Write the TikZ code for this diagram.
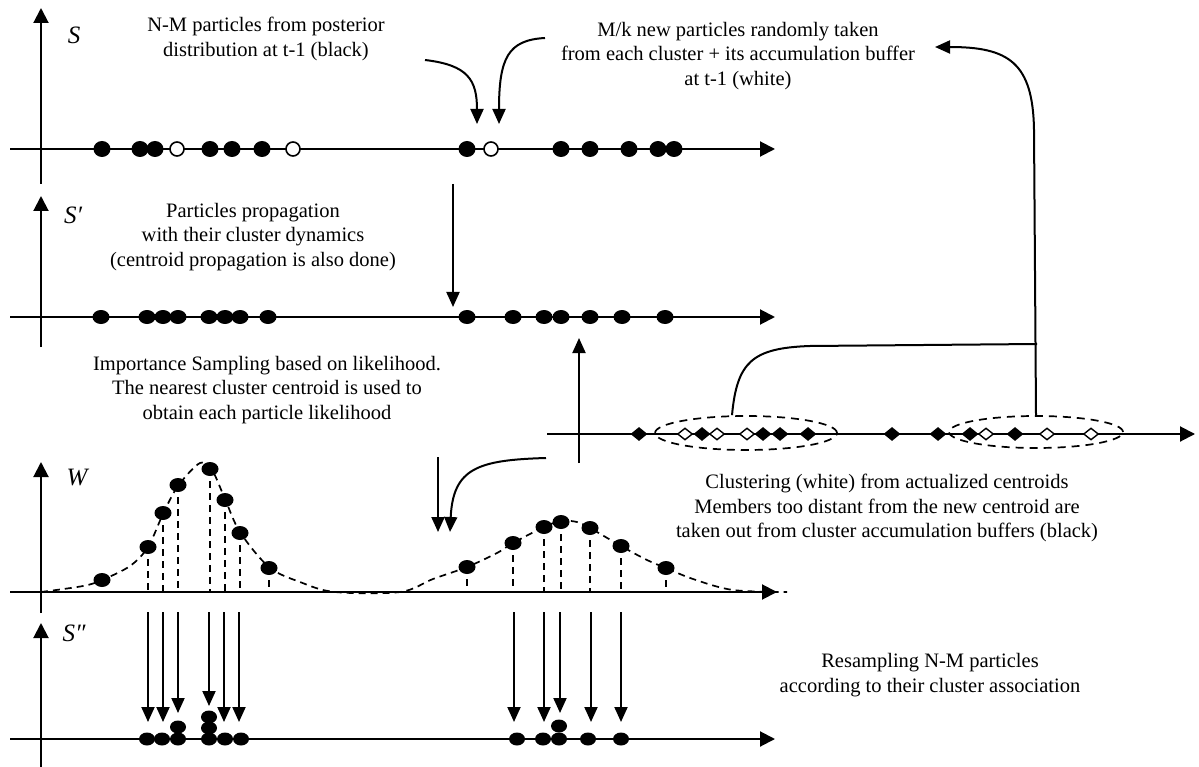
\documentclass[tikz,border=0pt]{standalone}
\usepackage{fontspec}
\setmainfont{Liberation Serif}
\usetikzlibrary{arrows.meta,shapes.geometric}
\tikzset{
 axisline/.style={line width=2pt,-{Triangle[length=15pt,width=15pt]}},
 arr/.style={line width=2pt,-{Triangle[length=15pt,width=13pt]}},
 plainline/.style={line width=2pt},
 pdotS/.style={ellipse,fill=black,inner sep=0pt,minimum width=17pt,minimum height=16pt},
 pdot/.style={ellipse,fill=black,inner sep=0pt,minimum width=17pt,minimum height=14pt},
 pdotR/.style={ellipse,fill=black,inner sep=0pt,minimum width=16pt,minimum height=13pt},
 podot/.style={ellipse,draw,fill=white,line width=1.6pt,inner sep=0pt,minimum width=14pt,minimum height=14pt},
 fdia/.style={diamond,fill=black,inner sep=0pt,minimum width=17pt,minimum height=14pt},
 odia/.style={diamond,draw,fill=white,line width=1.4pt,inner sep=0pt,minimum width=15pt,minimum height=12pt},
 clus/.style={ellipse,draw,line width=1.7pt,dash pattern=on 8pt off 6pt,inner sep=0pt},
 txt/.style={align=center,font=\fontsize{20.5}{24.5}\selectfont,inner sep=0pt},
 lab/.style={font=\fontsize{25}{30}\selectfont\itshape,inner sep=0pt},
 dsh/.style={line width=1.7pt,dash pattern=on 7pt off 5pt},
}
\begin{document}
\begin{tikzpicture}[x=1pt,y=-1pt]
\useasboundingbox (0,0) rectangle (1199,767);

% ---------- axes ----------
\coordinate (sL) at (10,149);   \coordinate (sR) at (775,149);
\coordinate (sB) at (41,184);   \coordinate (sT) at (41,8);
\coordinate (pL) at (10,317);   \coordinate (pR) at (775,317);
\coordinate (pB) at (41,347);   \coordinate (pT) at (41,196);
\coordinate (wL) at (10,592);   \coordinate (wR) at (777,592);
\coordinate (wB) at (41,613);   \coordinate (wT) at (41,462);
\coordinate (rL) at (10,739);   \coordinate (rR) at (775,739);
\coordinate (rB) at (41,767);   \coordinate (rT) at (41,623);
\coordinate (cL) at (547,434);  \coordinate (cR) at (1195,434);
\draw[axisline] (sL) -- (sR);  \draw[axisline] (sB) -- (sT);
\draw[axisline] (pL) -- (pR);  \draw[axisline] (pB) -- (pT);
\draw[axisline] (wL) -- (wR);  \draw[axisline] (wB) -- (wT);
\draw[axisline] (rL) -- (rR);  \draw[axisline] (rB) -- (rT);
\draw[axisline] (cL) -- (cR);

% ---------- axis labels ----------
\node[lab] (labS)  at (74,35)  {S};
\node[lab] (labS1) at (73,215) {S′};
\node[lab] (labW)  at (77,478) {W};
\node[lab] (labS2) at (74,633) {S″};

% ---------- texts ----------
\node[txt] (t1) at (266,39) {N-M particles from posterior\\distribution at t-1 (black)};
\node[txt] (t2) at (738,56) {M/k new particles randomly taken\\from each cluster + its accumulation buffer\\at t-1 (white)};
\node[txt] (t3) at (253,237) {Particles propagation\\with their cluster dynamics\\(centroid propagation is also done)};
\node[txt] (t4) at (267,390) {Importance Sampling based on likelihood.\\The nearest cluster centroid is used to\\obtain each particle likelihood};
\node[txt] (t5) at (887,508) {Clustering (white) from actualized centroids\\Members too distant from the new centroid are\\taken out from cluster accumulation buffers (black)};
\node[txt] (t6) at (930,675) {Resampling N-M particles\\according to their cluster association};

% ---------- row S ----------
\foreach \x [count=\i] in {102,140,155,210,232,262,467,561,590,629,658,674}
  \node[pdotS] (s\i) at (\x,149) {};
\foreach \x [count=\i] in {177,293,491}
  \node[podot] (so\i) at (\x,149) {};

% ---------- row S' ----------
\foreach \x [count=\i] in {101,147,163,178,209,225,240,268,467,513,544,561,590,622,665}
  \node[pdot] (p\i) at (\x,317) {};

% ---------- row W ----------
\draw[dsh] plot[smooth,tension=0.55] coordinates {(41,592) (83,586) (102,580) (130,566) (148,547) (163,514) (178,486) (200,463) (212,470) (225,499) (240,532) (269,567) (300,582) (335,592) (400,592) (433,579) (467,567) (497,553) (513,543) (544,527) (561,521) (577,522) (590,528) (621,546) (647,560) (666,568) (693,579) (733,590) (787,592)};
\foreach \x/\y [count=\i] in {102/580,148/547,163/513,178/485,210/469,225/500,240/533,269/568,467/567,513/543,544/527,561/522,590/528,621/546,666/568}{
  \coordinate (wp\i) at (\x,\y);
  \draw[dsh] (wp\i) -- (wp\i |- wL);
  \node[pdot] (w\i) at (wp\i) {};
}

% ---------- resampling arrows ----------
\foreach \x/\y [count=\i] in {148/722,163/722,178/713,209/706,224/722,239/722,514/722,544/722,560/713,591/722,621/722}{
  \coordinate (ra\i) at (\x,612);
  \coordinate (rb\i) at (\x,\y);
  \draw[arr] (ra\i) -- (rb\i);
}

% ---------- row S'' ----------
\foreach \x/\y [count=\i] in {147/739,162/739,178/739,178/727,209/739,209/728,209/717,225/739,241/739,517/739,543/739,559/739,559/726,588/739,621/739}
  \node[pdotR] (r\i) at (\x,\y) {};

% ---------- clustering row ----------
\node[clus,minimum width=182pt,minimum height=34pt] (cl1) at (746,433) {};
\node[clus,minimum width=174pt,minimum height=32pt] (cl2) at (1036,432) {};
\foreach \x [count=\i] in {639,702,763,780,808,892,938,970,1015}
  \node[fdia] (cf\i) at (\x,434) {};
\foreach \x [count=\i] in {685,717,747,986,1047,1091}
  \node[odia] (co\i) at (\x,434) {};

% ---------- connectors ----------
\coordinate (a1s) at (425,60);  \coordinate (a1e) at (477,124);
\coordinate (a2s) at (545,38);  \coordinate (a2e) at (499,124);
\draw[arr] (a1s) .. controls (468,65) and (477,80) .. (a1e);
\draw[arr] (a2s) .. controls (508,40) and (499,58) .. (a2e);

\coordinate (b1s) at (453,184); \coordinate (b1e) at (453,307);
\draw[arr] (b1s) -- (b1e);

\coordinate (c1s) at (579,463); \coordinate (c1e) at (579,338);
\draw[arr] (c1s) -- (c1e);

\coordinate (d1s) at (546,458); \coordinate (d1e) at (450,532);
\draw[arr] (d1s) .. controls (478,460) and (453,468) .. (d1e);
\coordinate (d2s) at (438,457); \coordinate (d2e) at (438,532);
\draw[arr] (d2s) -- (d2e);

\coordinate (e1) at (1034,130); \coordinate (e2) at (935,47);
\draw[arr] (cl2.north) -- (e1) .. controls (1033,62) and (1008,47) .. (e2);
\coordinate (f1) at (810,346); \coordinate (f2) at (1037,344);
\draw[plainline] ([xshift=-14pt]cl1.north) .. controls (737,362) and (752,348) .. (f1) -- (f2);
\end{tikzpicture}
\end{document}
